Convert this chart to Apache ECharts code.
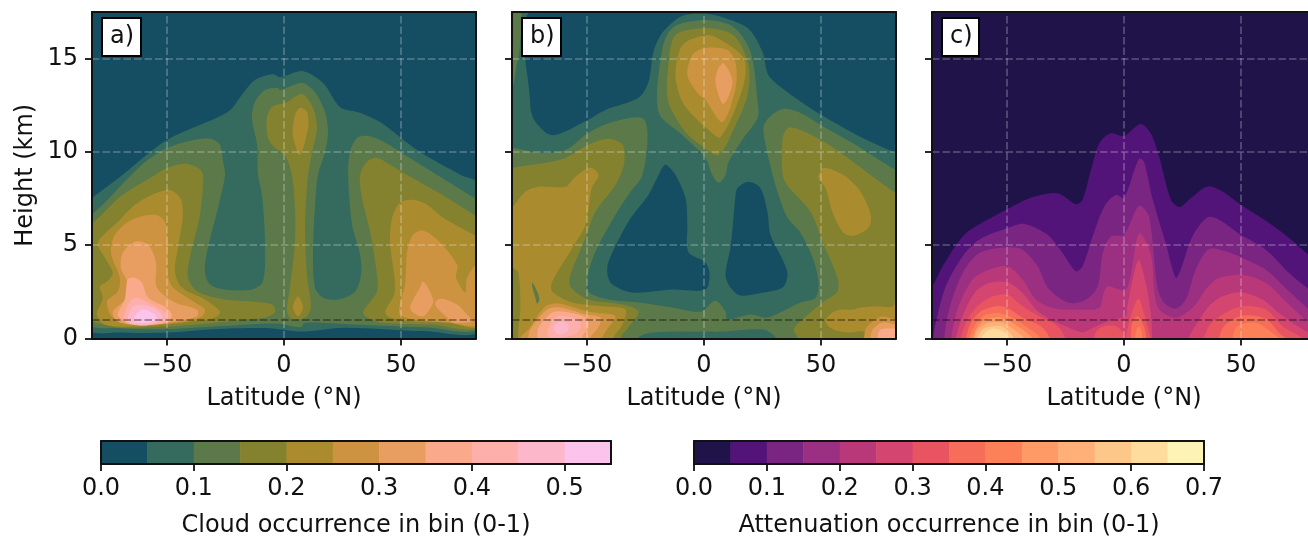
<!DOCTYPE html>
<html><head><meta charset="utf-8">
<script src="https://cdn.jsdelivr.net/npm/echarts@6/dist/echarts.min.js"></script>
<style>html,body{margin:0;padding:0;background:#fff;overflow:hidden;width:1308px;height:539px}#c{width:1340px;height:539px}</style>
</head><body><div id="c"></div>
<script>
const latTicks=[-50,0,50], heightTicks=[0,5,10,15], refHeight=[1];
const cloudTicks=[0,0.1,0.2,0.3,0.4,0.5], attenTicks=[0,0.1,0.2,0.3,0.4,0.5,0.6,0.7];
const cloudColors=['#154e63','#356b5e','#5c7a49','#85822f','#aa8c2e','#cd9340','#e89e60','#fba98b','#fdafab','#fdb7cb','#fbc4ec'];
const attenColors=['#20134a','#53147a','#7a2581','#9b2f82','#b8387a','#d4456f','#e85561','#f66d5a','#fc8159','#fe9a66','#feb078','#fec78a','#fddc9e','#fcf3b5'];
const latLabel='Latitude (°N)', heightLabel='Height (km)';
const cloudLabel='Cloud occurrence in bin (0-1)', attenLabel='Attenuation occurrence in bin (0-1)';
const panelNames=['a)','b)','c)'];

// Panel a contours: [latitude, height km]
const a05=[[-84,7.4],[-82,7.54],[-69,8.77],[-50,10.64],[-24,12.14],[-18,13.05],[-12.5,13.85],[-5,14.17],[-1.7,14],[8,14.33],[16.7,13.7],[24,12.4],[32.5,12.1],[41,11.6],[50,10.75],[58,10],[75.5,8.77],[84,8.2],[84,.5],[60,.4],[26,.58],[7,.37],[-6,.55],[-30,.5],[-50,.32],[-70,.32],[-84,.55]];
const a10=[[-84,6.9],[-81.2,6.74],[-60.7,9.31],[-49.6,10.22],[-38,10.65],[-31.6,10.7],[-27.4,10.38],[-26,9.47],[-25.2,8.77],[-28.2,7],[-32.9,4.65],[-33.8,3.58],[-31.6,2.89],[-25.2,2.62],[-13.7,2.62],[-9,3.05],[-8.1,5.19],[-9.4,7.7],[-11.1,8.77],[-11.5,10.38],[-13.7,11.82],[-12.4,12.68],[-8.1,13.32],[-2.6,13.43],[-1.7,13.32],[7.7,13.7],[13.2,13.2],[17.5,12.14],[18.8,11.07],[17.5,10],[14.5,8.77],[13.2,7],[12.4,4.65],[13.2,2.73],[16.7,2.19],[23.1,2.09],[30.3,2.51],[32.9,3.42],[32.5,4.49],[29.1,6.1],[27.4,8.77],[28.2,10],[31.2,10.75],[35.9,10.86],[41,10.65],[49.6,10],[65.4,8.77],[82.5,7.44],[84,7.3],[84,.65],[60,.6],[30,.75],[9,.85],[7,.6],[-3,.8],[-30,.64],[-50,.5],[-70,.55],[-84,.86]];
const a15L=[[-84,6.4],[-81.2,6.26],[-70,7.6],[-55,8.77],[-49.6,9.15],[-42.3,9.36],[-36.8,9.15],[-34.6,8.77],[-35.9,6.63],[-40.2,4.33],[-41,3.26],[-36.8,2.51],[-25.2,2.09],[-13.7,1.98],[-5.1,1.82],[-3.8,1.44],[-8.1,1.12],[-16.7,1.02],[-28.2,.86],[-49.6,.64],[-71,.59],[-80.8,.86],[-84,.95]];
const a15C=[[-5.1,12.41],[1.3,12.68],[7.7,13.1],[12.4,12.36],[14.1,11.29],[12,10],[10.3,8.77],[9,6.1],[9.8,3.42],[11.5,1.66],[9,1.12],[3.8,1.02],[1.3,1.44],[2.6,2.73],[4.7,5.19],[4.7,7],[3.4,8.77],[.4,9.84],[-3.8,10.22],[-6.8,10.75],[-7.3,11.82]];
const a15R=[[32.5,8.77],[35.5,9.47],[39.7,9.68],[45.3,9.31],[52.6,8.77],[65.4,7.86],[82.5,6.53],[84,6.4],[84,.7],[62.4,.75],[41,.86],[35.5,1.12],[33.8,1.44],[39.7,2.51],[39.7,3.42],[36.8,5.72],[33.3,7.54]];
const a20C1=[[6.8,12.36],[9.8,12.14],[10.3,11.29],[6.8,9.84],[3.8,10.91],[4.7,11.98]];
const a20C2=[[6,2.25],[8.1,1.66],[6,1.18],[3.8,1.66]];
const a20L=[[-79.5,5.14],[-70.9,6.26],[-62.4,7.28],[-49.6,7.97],[-44.4,7.54],[-43.2,6.63],[-45.3,4.87],[-46.6,3.58],[-43.6,2.73],[-33.8,2.09],[-27.4,1.44],[-29.5,1.12],[-42.3,.86],[-63.7,.64],[-76.5,.75],[-79.9,1.28],[-77.4,2.19],[-78.6,2.78],[-75.2,3.1],[-73.1,3.53],[-76.5,4.33]];
const a20R=[[46.2,6.47],[49.6,7.28],[55.1,7.44],[61.1,7.17],[68,6.47],[82.5,5.46],[84,5.35],[84,.7],[69.7,.86],[55.1,.91],[45.3,1.12],[43.2,1.44],[47.4,2.51],[45.3,5.19]];
const a25L=[[-73.9,4.6],[-72.2,5.56],[-65,6.37],[-55.1,6.63],[-50.9,6.26],[-49.6,5.19],[-49.6,3.42],[-47.4,2.73],[-38,1.93],[-33.8,1.55],[-35,1.18],[-42.3,.91],[-63.7,.75],[-73.1,1.12],[-75.6,1.98],[-71,2.51],[-70.1,3.26]];
const a25R=[[52.6,4.65],[55.1,5.56],[59.4,5.78],[65.4,5.3],[73.9,3.96],[73.5,3.26],[77.4,2.46],[78.2,3.26],[82.5,4.07],[84,4.1],[84,.8],[69.7,.86],[55.1,1.02],[49.6,1.28],[49.2,1.66],[51.7,2.89]];
const a30L=[[-69.7,3.8],[-68.8,4.6],[-63.7,5.19],[-58.1,5.03],[-54.7,4.12],[-54.3,2.73],[-46.6,1.93],[-37.2,1.55],[-37.2,1.18],[-49.6,.86],[-60.7,.7],[-71,.91],[-73.1,1.44],[-68,2.09],[-67.1,3.05]];
const a30R1=[[59.4,3.05],[62.4,2.51],[63.7,1.93],[59.4,1.18],[55.1,1.39],[53.9,1.71],[58.1,2.73]];
const a30R2=[[66.7,2.14],[73.9,1.82],[78.2,1.28],[80.4,.91],[72.2,.86],[69.7,1.12],[64.5,1.82]];
const a35=[[-66.7,3.16],[-63.7,3.26],[-60.7,3],[-58.1,2.19],[-50.9,1.71],[-47.9,1.28],[-49.6,.86],[-60.7,.75],[-68,.91],[-71,1.28],[-68,2.09]];
const a40=[[-67.1,1.71],[-63.7,2.19],[-58.1,1.93],[-50.9,1.39],[-49.6,1.02],[-59.5,.7],[-68,.91]];
const a45=[[-66.7,1.18],[-63.7,1.77],[-56,1.66],[-51.7,1.12],[-58.1,.75],[-65.8,.86]];
const a50=[[-63.7,1.18],[-60.3,1.55],[-55.1,1.28],[-54.3,1.02],[-58.5,.86],[-63.7,.91]];

// Panel b contours
const bDarkTop=[[-72,17.7],[-74.2,12.5],[-72,11.6],[-64.8,10.9],[-49.8,11.7],[-42.1,12.25],[-28,12.9],[-23.7,13.75],[-21.6,15.35],[-17.7,16.4],[-9.2,17.3],[.6,17.4],[8.3,17.2],[19,16.6],[25,15.35],[27.6,14.1],[35.7,13.2],[49.8,12],[66.9,10.8],[81.8,9.95],[84,9.85],[84,17.7]];
const bDarkL=[[-16.5,9.31],[-12.2,8.77],[-7.9,7.54],[-7.1,6.1],[-6.7,4.65],[.6,4.07],[2.4,3.42],[.6,2.62],[-13.5,2.62],[-30.6,2.46],[-39.1,2.89],[-41.2,3.42],[-40.8,4.12],[-32.3,6.26],[-23.7,7.7],[-19.4,8.77]];
const bDarkR=[[14.3,8.07],[19,8.4],[24.1,8.07],[27.1,6.78],[28.4,5.56],[34,4.12],[35.7,3.42],[33.6,2.73],[25.4,2.46],[15.6,2.3],[11.3,2.73],[9.2,3.42],[11.3,4.87],[12.2,5.94],[13.5,7.7]];
const b10Main=[[-85,10.2],[-81.8,10.22],[-70.7,9.95],[-59.2,10.11],[-49.4,11.02],[-39.1,11.6],[-26.3,11.82],[-24.1,10.91],[-26.3,8.77],[-31.4,7.86],[-37.8,6.63],[-46.4,4.65],[-49.8,3.26],[-49.4,2.51],[-40.8,2.09],[-28,1.93],[-13.5,1.66],[-1.5,1.44],[4.9,2.03],[9.2,1.44],[10,1.02],[19.9,1.28],[27.1,1.12],[41.2,1.93],[47.7,2.19],[48.9,3.05],[46.4,4.33],[41.2,5.67],[35.7,6.47],[31.8,7.7],[29.3,8.77],[26.3,10.38],[25.4,11.34],[27.6,11.82],[33.6,12.3],[41.2,12.09],[49.8,11.45],[62.6,10.54],[81.8,9.04],[86,8.9],[86,-.5],[-86,-.5]];
const b05Strip=[[-28,.05],[-22,.32],[.6,.37],[7,.37],[25.4,.48],[30.6,.05],[30.6,-.5],[-28,-.5]];
const b10Hump=[[.6,17.07],[-13,16.7],[-17.7,15.57],[-19.4,12.14],[-9.2,10.91],[.6,9.68],[3.6,8.77],[6.2,8.35],[9.2,8.77],[10.5,9.47],[16.9,10.75],[22.9,11.82],[22.9,12.68],[19.9,15.35],[12.6,16.7]];
const b10Corner=[[-84,17.7],[-78.4,17.7],[-78.8,15.45],[-80,14.65],[-81.8,13.4],[-84,13.3]];
const b15Hump=[[.6,16.63],[-12.2,16.26],[-15.2,14.66],[-15.2,12.68],[-7.9,11.07],[-1.5,10.38],[6.2,9.84],[13.5,11.45],[18.6,13.05],[19,14.66],[12.6,16.26]];
const b20Hump=[[.6,16.26],[-9.2,15.73],[-12.2,14.12],[-9.2,12.68],[-3.6,11.82],[.6,11.34],[7.1,10.81],[16.9,13.59],[16.9,15.03],[5.8,16.1]];
const b25Hump=[[.6,15.57],[-4.9,15.2],[-7.1,14.12],[-2.8,13.16],[.6,12.79],[7.9,11.61],[13.5,13.43],[13.5,14.76],[10,15.46]];
const b30Hump=[[8.3,14.76],[12.2,13.75],[8.3,12.57],[4.9,13.7],[5.8,14.39]];
const b15L=[[-85,9.1],[-81.8,9.15],[-70.7,9.36],[-59.2,9.68],[-49.4,10.38],[-40.8,10.7],[-34.8,10.38],[-34,9.47],[-35.7,8.77],[-38.7,8.07],[-46.4,6.79],[-50.6,5.4],[-57,3.42],[-57,2.78],[-49.4,2.09],[-34.8,1.82],[-28,1.44],[-32.3,.59],[-35.7,.05],[-35.7,-.5],[-85,-.5]];
const b20L=[[-85,6.9],[-81.8,7.06],[-76.3,7.86],[-70.7,8.13],[-59.2,8.13],[-54.9,8.67],[-48.5,9.15],[-45.1,8.77],[-47.7,8.13],[-48.5,7.7],[-50.6,6.1],[-56.2,4.87],[-64.8,3.05],[-64.8,2.51],[-56.2,1.93],[-42.1,1.71],[-33.6,1.55],[-34.8,.75],[-38.7,.05],[-38.7,-.5],[-78.4,-.5],[-79.3,.37],[-78.4,1.66],[-79.3,3.53],[-81.8,3.8],[-85,3.96]];
const bSquiggle=[[-73.3,3],[-71.2,2.51],[-70.3,2.09],[-71.2,1.87],[-72.4,2.35],[-73.3,2.73]];
const b25L=[[-78.4,.05],[-75,.48],[-67.8,1.71],[-62.2,1.87],[-49.4,1.44],[-39.1,1.28],[-37.8,1.12],[-40.8,.59],[-43.4,.05],[-43.4,-.5],[-78.4,-.5]];
const b30L=[[-75,.05],[-74.2,.48],[-66.9,1.55],[-61.3,1.66],[-50.6,1.28],[-44.2,1.12],[-45.1,.59],[-48.5,.05],[-48.5,-.5],[-75,-.5]];
const b35L=[[-71.2,.05],[-70.7,.59],[-64.8,1.39],[-59.2,1.44],[-50.6,1.12],[-49.4,.59],[-51.9,.1],[-51.9,-.5],[-71.2,-.5]];
const b40L=[[-66.9,.37],[-63.5,1.12],[-57.9,1.18],[-52.8,.86],[-54,.32],[-60.5,.05],[-66,.05]];
const b45L=[[-64.3,.59],[-61.3,.91],[-57.9,.75],[-58.3,.37],[-62.2,.21]];
const b15R=[[33.6,8.77],[33.6,10.75],[36.1,11.29],[41.2,11.18],[49.8,10.65],[59.6,9.84],[71.2,8.77],[81.8,7.81],[86,7.65],[86,-.5],[40,-.5],[40,.05],[38.3,.48],[41.2,.91],[51.1,1.98],[57,2.51],[57,3.26],[50.6,5.19],[45.5,6.79],[36.1,8.13]];
const b20Rt=[[48.9,8.61],[51.1,9.15],[59.6,8.77],[63.5,8.35],[66.9,7.86],[71.2,6.63],[70.3,5.94],[63.9,5.51],[59.6,5.67],[55.3,6.63],[51.9,8.07]];
const b20Rb=[[81.8,2.09],[80.6,1.71],[74.2,1.71],[66.9,1.66],[63.9,1.55],[58.3,1.55],[54.9,1.39],[51.9,.91],[55.3,.48],[61.3,.32],[68.2,.37],[69,.05],[69,-.5],[86,-.5],[86,2.2]];
const b25R=[[69,.48],[72,.91],[76.3,1.18],[81.8,1.02],[86,1],[86,-.5],[69,-.5]];
const b30R=[[71.2,.05],[72,.48],[76.3,.86],[81.8,.75],[86,.75],[86,-.5],[71.2,-.5]];
const b35R=[[74.2,.1],[75.4,.48],[81.8,.53],[86,.5],[86,-.5],[74.2,-.5]];

// Panel c contours
const c05=[[-86,2.3],[-81.8,2.8],[-77.5,3.87],[-68.9,5.47],[-63.3,6.01],[-49.7,6.94],[-39,7.58],[-28.3,7.79],[-20.5,7.2],[-17.7,7.44],[-14.1,9.04],[-10.5,10.47],[-5.6,11],[0,10.86],[7.1,11.5],[11.4,11],[15,9.75],[20,7.44],[23.8,7.05],[27.8,7.44],[35.6,8.15],[42,7.88],[49.9,7.17],[62,6.19],[70.5,5.39],[79.1,4.46],[86,3.8],[86,-.5],[-86,-.5]];
const c10=[[-81.5,0],[-80.4,.84],[-76.1,2.8],[-68.9,4.4],[-61.8,5.3],[-49.7,5.92],[-42.6,6.14],[-32.6,5.56],[-26.2,4.58],[-20.5,3.6],[-17.7,3.87],[-13.4,5.47],[-8.4,7.08],[-3.4,7.7],[0,7.53],[6.4,9.63],[8.5,9.49],[12.1,7.53],[17.8,5.12],[22.1,3.25],[24.2,3.69],[29.2,5.47],[35.6,6.49],[40.6,6.37],[49.9,5.56],[60.6,4.76],[70.5,3.51],[79.1,2.62],[86,2],[86,-.5],[-81.5,-.5]];
const c15=[[-76.8,0],[-74.7,1.55],[-68.9,3.51],[-61.8,4.58],[-49.7,4.89],[-43.3,4.76],[-36.9,3.87],[-31.9,2.62],[-23.4,1.91],[-16.2,2.09],[-11.2,2.8],[-9.1,4.58],[-5.6,5.47],[0,5.56],[6.4,7.12],[10.7,6.54],[14.2,2.8],[17.1,1.91],[22.1,1.6],[26.4,2.09],[30.6,3.69],[36.3,4.8],[43.5,4.67],[50.6,4.32],[60.6,3.69],[70.5,2.53],[79.1,1.55],[86,1],[86,-.5],[-76.8,-.5]];
const c20=[[-73.9,0],[-71.1,1.55],[-64.7,3.16],[-57.6,3.69],[-49.7,3.87],[-43.3,3.16],[-37.6,2.09],[-30.5,1.64],[-20.5,1.55],[-10.5,1.64],[-9.1,2.26],[-7,2.8],[.9,2.62],[6.4,5.62],[11.4,4.58],[14.2,1.73],[22.1,1.11],[29.9,1.73],[34.9,2.62],[39.2,3.16],[43.5,3.33],[50.6,3.42],[60.6,2.98],[70.5,1.82],[79.1,.84],[86,.3],[86,-.5],[-73.9,-.5]];
const c25L=[[-71.8,0],[-69,1.19],[-63.3,2.53],[-57.6,2.98],[-49.7,3.01],[-43.3,2.44],[-37.6,1.55],[-31.9,1.05],[-24.8,.66],[-17.7,.34],[-12,.66],[-4.8,1.02],[.9,1.19],[1.4,1.73],[6.1,4.19],[9.3,2.98],[11.4,1.37],[12.1,0],[12.1,-.5],[-71.8,-.5]];
const c25R=[[27.5,0],[31.3,.84],[36.3,1.73],[42,2.26],[49.9,2.48],[59.1,2.09],[66.2,1.37],[79.1,.3],[86,.2],[86,-.5],[27.5,-.5]];
const c30L=[[-69.7,0],[-66.8,1.02],[-61.8,1.82],[-56.1,2.26],[-49.7,2.35],[-43.3,1.73],[-36.2,1.19],[-28.3,.66],[-25.1,0],[-25.1,-.5],[-69.7,-.5]];
const c30B=[[-12.7,0],[-12,.34],[-9.1,.63],[-3.4,.66],[-.6,.3],[.1,0],[.1,-.5],[-12.7,-.5]];
const c30C=[[.7,0],[2.9,1.19],[6.1,2.14],[8.5,1.37],[10.4,.48],[11.4,0],[11.4,-.5],[.7,-.5]];
const c30R=[[34.2,0],[36.3,.66],[42,1.28],[50.6,1.73],[60.6,1.55],[67.7,.66],[76.2,0],[76.2,-.5],[34.2,-.5]];
const c35L=[[-67.5,0],[-65.4,.84],[-61.1,1.46],[-54.7,1.73],[-49.7,1.64],[-43.3,1.11],[-35.5,.66],[-31.6,0],[-31.6,-.5],[-67.5,-.5]];
const c35C=[[2.9,0],[3.5,.84],[5.7,1.19],[8.5,.66],[9.5,0],[9.5,-.5],[2.9,-.5]];
const c35R=[[40.6,0],[42.7,.66],[50.6,1.23],[60.6,1.05],[67,.21],[69.1,0],[69.1,-.5],[40.6,-.5]];
const c40L=[[-66.1,0],[-64,.66],[-59.7,1.23],[-54,1.37],[-49,1.19],[-41.9,.66],[-35.5,0],[-35.5,-.5],[-66.1,-.5]];
const c40C=[[4.7,0],[5.7,.57],[7.1,.57],[7.8,0],[7.8,-.5],[4.7,-.5]];
const c40R=[[46.3,0],[48.4,.66],[56.3,.84],[63.4,.3],[66.2,0],[66.2,-.5],[46.3,-.5]];
const c45=[[-64.7,0],[-62.5,.66],[-59,1.02],[-52.6,1.11],[-47.6,.84],[-39,0],[-39,-.5],[-64.7,-.5]];
const c50=[[-64,0],[-61.8,.57],[-57.6,.84],[-51.8,.84],[-46.2,.39],[-42.6,0],[-42.6,-.5],[-64,-.5]];
const c55=[[-62.5,0],[-60.4,.48],[-56.8,.66],[-51.8,.63],[-46.9,0],[-46.9,-.5],[-62.5,-.5]];
const c60=[[-61.1,0],[-59,.34],[-56.1,.52],[-51.2,.34],[-49,0],[-49,-.5],[-61.1,-.5]];

// paint order: [colour band index, contour]
const panelA=[[1,a05],[2,a10],[3,a15L],[3,a15C],[3,a15R],[4,a20C1],[4,a20C2],[4,a20L],[4,a20R],[5,a25L],[5,a25R],[6,a30L],[6,a30R1],[6,a30R2],[7,a35],[8,a40],[9,a45],[10,a50]];
const panelB=[[0,bDarkTop],[0,bDarkL],[0,bDarkR],[2,b10Main],[1,b05Strip],[2,b10Hump],[2,b10Corner],[3,b15Hump],[4,b20Hump],[5,b25Hump],[6,b30Hump],[3,b15L],[4,b20L],[2,bSquiggle],[5,b25L],[6,b30L],[7,b35L],[8,b40L],[9,b45L],[3,b15R],[4,b20Rt],[4,b20Rb],[5,b25R],[6,b30R],[7,b35R]];
const panelC=[[1,c05],[2,c10],[3,c15],[4,c20],[5,c25L],[5,c25R],[6,c30L],[6,c30B],[6,c30C],[6,c30R],[7,c35L],[7,c35C],[7,c35R],[8,c40L],[8,c40C],[8,c40R],[9,c45],[10,c50],[11,c55],[12,c60]];

const FONT='"DejaVu Sans"', INK='#111', TICK=24;
const panels=[{list:panelA,colors:cloudColors,base:cloudColors[0],left:92},{list:panelB,colors:cloudColors,base:cloudColors[1],left:512},{list:panelC,colors:attenColors,base:attenColors[0],left:932}];
const TOP=12,H=326.5,W=384;
const grid=[],xAxis=[],yAxis=[],series=[],title=[];
const line={show:true,onZero:false,lineStyle:{color:INK,width:2}};
const fmt=v=>String(v).replace('-','\u2212');
panels.forEach((p,i)=>{
  grid.push({left:p.left,top:TOP,width:W,height:H,show:true,backgroundColor:p.base,borderWidth:0,containLabel:false});
  const n=xAxis.length, m=yAxis.length;
  xAxis.push({type:'value',gridIndex:i,min:-82,max:82,z:6,position:'bottom',axisLine:line,splitLine:{show:false},
    axisTick:{show:true,length:7,lineStyle:{color:INK,width:1.8},customValues:latTicks},
    axisLabel:{show:true,customValues:latTicks,formatter:fmt,fontFamily:FONT,fontSize:TICK,color:INK,margin:15},
    name:latLabel,nameLocation:'middle',nameGap:48,nameTextStyle:{fontFamily:FONT,fontSize:TICK,color:INK}});
  xAxis.push({type:'value',gridIndex:i,min:-82,max:82,z:6,position:'top',axisLine:line,axisTick:{show:false},axisLabel:{show:false},splitLine:{show:false}});
  yAxis.push({type:'value',gridIndex:i,min:0,max:17.5,z:6,position:'left',axisLine:line,splitLine:{show:false},
    axisTick:{show:true,length:7,lineStyle:{color:INK,width:1.8},customValues:heightTicks},
    axisLabel:{show:i===0,customValues:heightTicks,fontFamily:FONT,fontSize:TICK,color:INK,margin:14},
    name:i===0?heightLabel:'',nameLocation:'middle',nameGap:54,nameRotate:90,nameTextStyle:{fontFamily:FONT,fontSize:TICK,color:INK}});
  yAxis.push({type:'value',gridIndex:i,min:0,max:17.5,z:6,position:'right',axisLine:line,axisTick:{show:false},axisLabel:{show:false},splitLine:{show:false}});
  const white={color:'rgba(255,255,255,0.27)',width:1.6,type:[7.5,3]};
  series.push({type:'custom',coordinateSystem:'cartesian2d',xAxisIndex:n,yAxisIndex:m,clip:true,silent:true,animation:false,z:2,
    data:p.list.map((b,k)=>[k]),encode:{x:-1,y:-1},
    renderItem:(params,api)=>{const b=p.list[params.dataIndex];
      return {type:'polygon',shape:{points:b[1].map(q=>api.coord(q)),smooth:0.3},style:{fill:p.colors[b[0]]}};},
    markLine:{silent:true,symbol:'none',animation:false,label:{show:false},z:5,data:[
      ...latTicks.map(v=>({xAxis:v,lineStyle:white})),
      ...heightTicks.slice(1).map(v=>({yAxis:v,lineStyle:white})),
      ...refHeight.map(v=>({yAxis:v,lineStyle:{color:'rgba(0,0,0,0.45)',width:1.6,type:[7.5,3]}}))]}});
  title.push({text:panelNames[i],left:p.left+10,top:18,padding:[7,7,7,8],backgroundColor:'#fff',borderColor:'#000',borderWidth:2,z:8,
    textStyle:{fontFamily:FONT,fontSize:24,fontWeight:'normal',color:INK}});
});
function colorbar(left,width,maxV,ticks,colors,label,idx){
  grid.push({left,top:441,width,height:26,show:false});
  const n=xAxis.length,m=yAxis.length;
  xAxis.push({type:'value',gridIndex:idx,min:0,max:maxV,z:6,position:'bottom',axisLine:line,splitLine:{show:false},
    axisTick:{show:true,length:7,lineStyle:{color:INK,width:1.8},customValues:ticks},
    axisLabel:{show:true,customValues:ticks,formatter:v=>v.toFixed(1),fontFamily:FONT,fontSize:TICK,color:INK,margin:13},
    name:label,nameLocation:'middle',nameGap:50,nameTextStyle:{fontFamily:FONT,fontSize:TICK,color:INK}});
  xAxis.push({type:'value',gridIndex:idx,min:0,max:maxV,z:6,position:'top',axisLine:line,axisTick:{show:false},axisLabel:{show:false},splitLine:{show:false}});
  yAxis.push({type:'value',gridIndex:idx,min:0,max:1,z:6,position:'left',axisLine:line,axisTick:{show:false},axisLabel:{show:false},splitLine:{show:false}});
  yAxis.push({type:'value',gridIndex:idx,min:0,max:1,z:6,position:'right',axisLine:line,axisTick:{show:false},axisLabel:{show:false},splitLine:{show:false}});
  series.push({type:'custom',coordinateSystem:'cartesian2d',xAxisIndex:n,yAxisIndex:m,silent:true,animation:false,
    data:colors.map((c,k)=>[k*0.05,(k+1)*0.05]),encode:{x:[0,1]},
    renderItem:(params,api)=>{const a=api.coord([api.value(0),0]),b=api.coord([api.value(1),1]);
      return {type:'rect',shape:{x:a[0],y:b[1],width:b[0]-a[0]+0.5,height:a[1]-b[1]},style:{fill:colors[params.dataIndex]}};}});
}
colorbar(101,510,0.55,cloudTicks,cloudColors,cloudLabel,3);
colorbar(694,510,0.7,attenTicks,attenColors,attenLabel,4);
const chart=echarts.init(document.getElementById('c'),null,{renderer:'canvas'});
chart.setOption({animation:false,backgroundColor:'#fff',textStyle:{fontFamily:FONT},title,grid,xAxis,yAxis,series});
</script></body></html>
